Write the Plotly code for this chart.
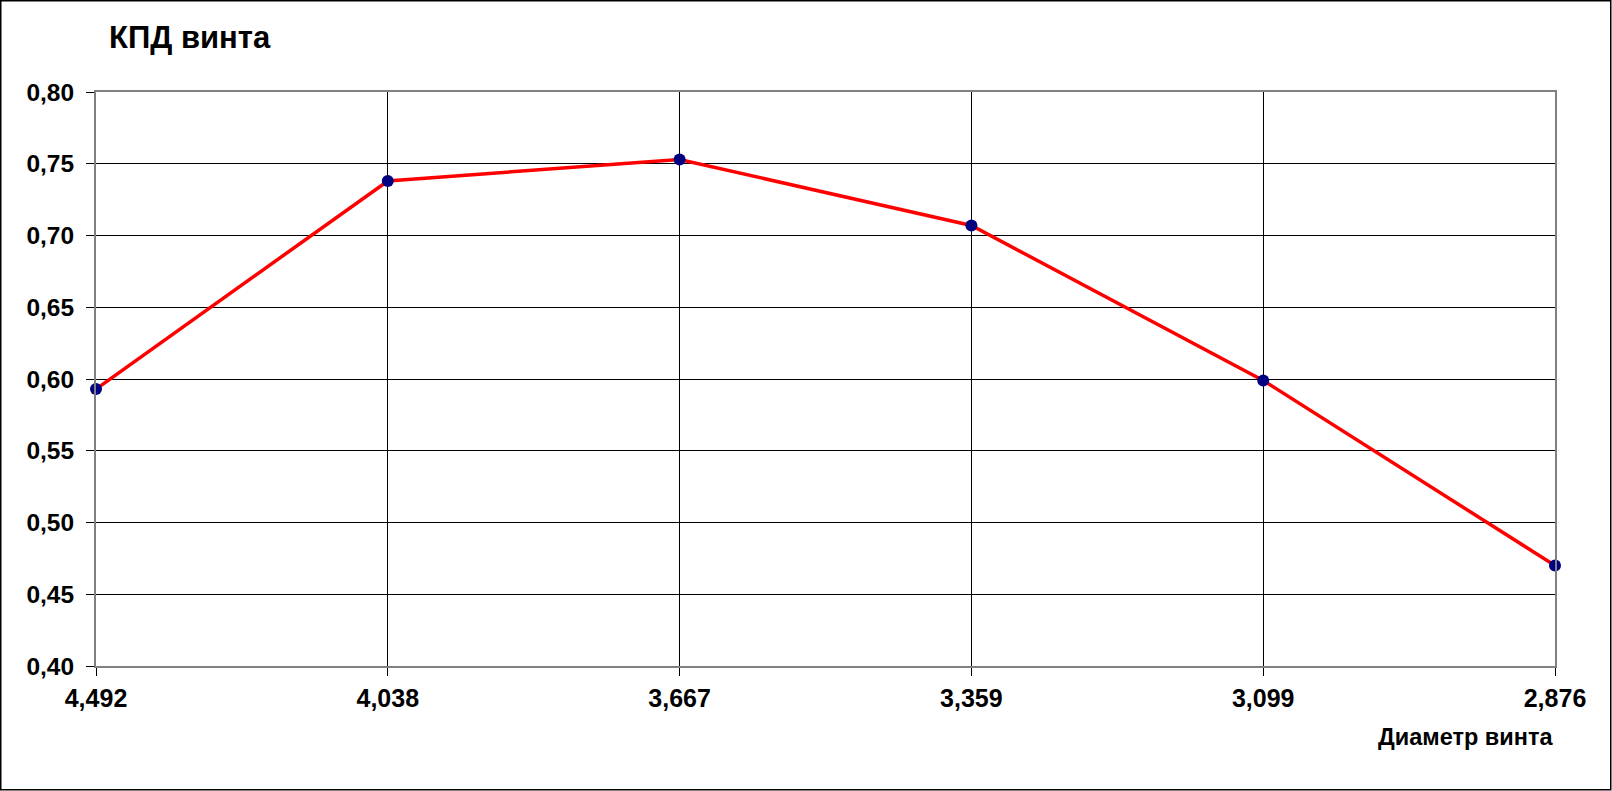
import plotly.graph_objects as go

diameters = ["4,492", "4,038", "3,667", "3,359", "3,099", "2,876"]
efficiency = [0.593, 0.738, 0.753, 0.707, 0.599, 0.470]
y_ticks = [0.40, 0.45, 0.50, 0.55, 0.60, 0.65, 0.70, 0.75, 0.80]
y_tick_text = ["0,40", "0,45", "0,50", "0,55", "0,60", "0,65", "0,70", "0,75", "0,80"]

W, H = 1612, 791
L, R, T, B = 96, 57, 92, 125
pw, ph = W - L - R, H - T - B

def px(x):
    return (x - L) / pw

def py(y):
    return (H - B - y) / ph

FONT = "Arial, Liberation Sans, sans-serif"

fig = go.Figure()
fig.add_trace(go.Scatter(
    x=list(range(len(diameters))), y=efficiency, mode="lines+markers",
    line=dict(color="#FF0000", width=3.5),
    marker=dict(color="#000080", size=12),
    cliponaxis=False, showlegend=False,
))

fig.update_layout(
    width=W, height=H,
    margin=dict(l=L, r=R, t=T, b=B),
    paper_bgcolor="white", plot_bgcolor="white",
    font=dict(family=FONT, size=24, color="black", weight="bold"),
    xaxis=dict(
        range=[0, len(diameters) - 1], tickvals=list(range(len(diameters))), ticktext=diameters,
        showgrid=True, gridcolor="black", gridwidth=1,
        showline=True, linecolor="#808080", linewidth=2, mirror=True,
        ticks="outside", ticklen=8, tickcolor="black", tickwidth=1,
        ticklabelstandoff=1, zeroline=False,
        tickfont=dict(family=FONT, size=25, color="black", weight="bold"),
    ),
    yaxis=dict(
        range=[0.40, 0.80], tickvals=y_ticks, ticktext=y_tick_text,
        showgrid=True, gridcolor="black", gridwidth=1,
        showline=True, linecolor="#808080", linewidth=2, mirror=True,
        ticks="outside", ticklen=8, tickcolor="black", tickwidth=1,
        ticklabelstandoff=7, zeroline=False,
        tickfont=dict(family=FONT, size=24.5, color="black", weight="bold"),
    ),
    annotations=[
        dict(text="КПД винта", xref="paper", yref="paper", x=px(107), y=py(37),
             xanchor="left", yanchor="middle", showarrow=False,
             font=dict(family=FONT, size=31, color="black", weight="bold")),
        dict(text="Диаметр винта", xref="paper", yref="paper", x=px(1555), y=py(737),
             xanchor="right", yanchor="middle", showarrow=False,
             font=dict(family=FONT, size=23.5, color="black", weight="bold")),
    ],
    shapes=[
        dict(type="rect", xref="paper", yref="paper",
             x0=px(0.75), x1=px(1610.75), y0=py(789.75), y1=py(0.75),
             line=dict(color="black", width=1.5), fillcolor="rgba(0,0,0,0)", layer="below"),
    ],
)

fig.write_html("out.html", config={"displayModeBar": False},
               post_script="document.body.style.margin='0';document.body.style.overflow='hidden';")
